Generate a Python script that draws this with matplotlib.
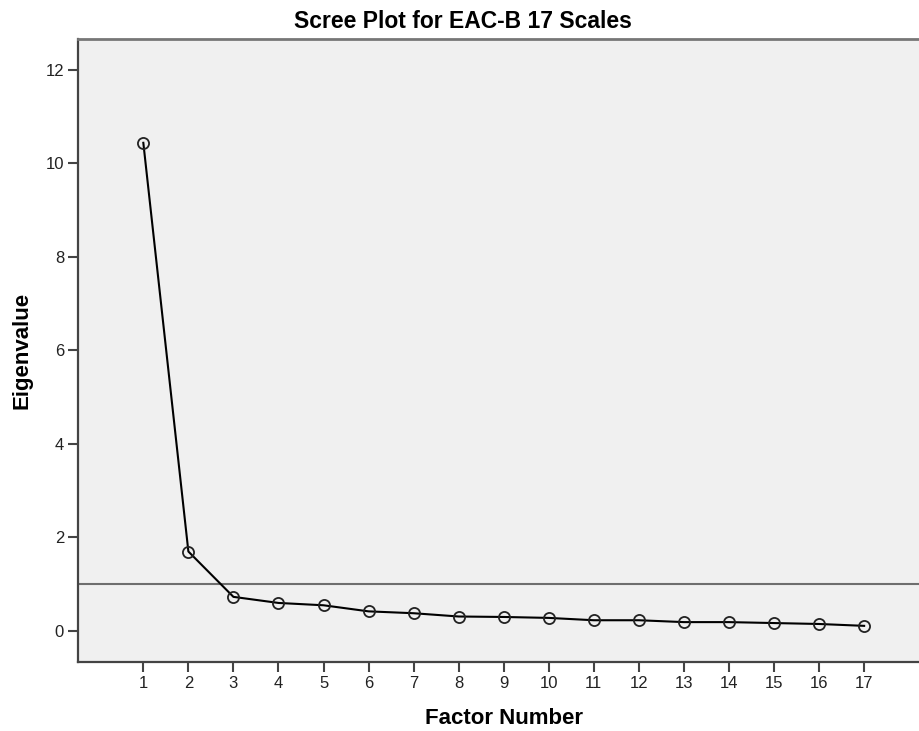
import numpy as np
import matplotlib
matplotlib.use('Agg')
import matplotlib.pyplot as plt

# scree plot data
factors = list(range(1, 18))
eigenvalues = [10.44, 1.70, 0.73, 0.60, 0.55, 0.42, 0.38, 0.31, 0.30,
               0.28, 0.23, 0.23, 0.19, 0.19, 0.17, 0.15, 0.11]
cutoff = 1.0
title = 'Scree Plot for EAC-B 17 Scales'

plt.rcParams['font.family'] = ['Liberation Sans', 'DejaVu Sans']

fig = plt.figure(figsize=(9.2, 7.31), dpi=100)
ax = fig.add_axes([78 / 920, 69 / 731, 842 / 920, 623 / 731])
ax.set_facecolor('#f0f0f0')

ax.axhline(cutoff, color='#6e6e6e', lw=1.5, zorder=1)
ax.plot(factors, eigenvalues, color='black', lw=1.5, marker='o',
        markersize=8, markerfacecolor='none', markeredgecolor='#222222',
        markeredgewidth=1.3, zorder=3)

ax.set_xlim(-0.45, 18.24)
ax.set_ylim(-0.663, 12.66)
ax.set_xticks(factors)
ax.set_yticks([0, 2, 4, 6, 8, 10, 12])

for s in ['left', 'bottom']:
    ax.spines[s].set_color('#444444')
    ax.spines[s].set_linewidth(1.6)
ax.spines['top'].set_color('#777777')
ax.spines['top'].set_linewidth(2)
ax.spines['right'].set_visible(False)

ax.tick_params(direction='out', length=7, width=1.5, color='#444444',
               labelsize=12, labelcolor='#222222', pad=3)

fig.text(463 / 920, 1 - 21 / 731, title, ha='center', va='center',
         fontsize=16.5, fontweight='bold')
fig.text(504 / 920, 1 - 719 / 731, 'Factor Number', ha='center', va='center',
         fontsize=16, fontweight='bold')
fig.text(22 / 920, 1 - 350 / 731, 'Eigenvalue', ha='center', va='center',
         rotation=90, fontsize=16, fontweight='bold')

fig.savefig('out.png', dpi=100, facecolor='white')
